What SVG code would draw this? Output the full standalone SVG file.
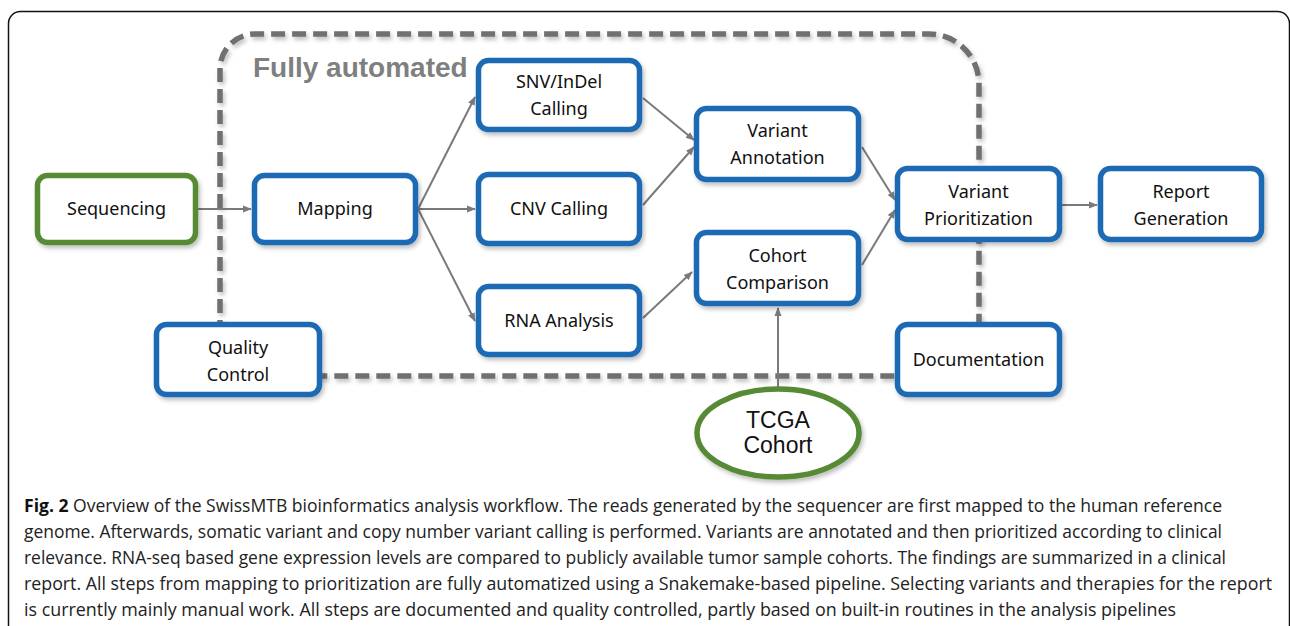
<svg xmlns="http://www.w3.org/2000/svg" width="1290" height="626" viewBox="0 0 1290 626">
<defs>
<filter id="sh" x="-10%" y="-10%" width="130%" height="140%">
<feDropShadow dx="2" dy="3" stdDeviation="2" flood-color="#000" flood-opacity="0.25"/>
</filter>
<marker id="ah" viewBox="0 0 10 10" refX="9" refY="5" markerWidth="4.5" markerHeight="4.5" orient="auto" markerUnits="strokeWidth">
<path d="M0,1 L10,5 L0,9 Z" fill="#7a7a7a"/>
</marker>
<style>
.box{fill:#fff;stroke:#1f6bb4;stroke-width:5.5;filter:url(#sh)}
.gbox{fill:#fff;stroke:#578a34;stroke-width:5.5;filter:url(#sh)}
.t{font-family:"Noto Sans","Open Sans",sans-serif;font-size:18px;fill:#111;text-anchor:middle}
.tc{font-family:"Liberation Sans",Arial,sans-serif;font-size:23px;fill:#111;text-anchor:middle}
.ar{stroke:#7a7a7a;stroke-width:2;fill:none;marker-end:url(#ah)}
.cap{font-family:"Open Sans","Noto Sans",sans-serif;font-size:18px;fill:#222}
</style>
</defs>
<rect x="8.5" y="11.5" width="1281" height="700" rx="12" fill="#fff" stroke="#111" stroke-width="1.5"/>
<path id="automated-region" d="M220,376 V69 A35,35 0 0 1 255,34 H929 A50,50 0 0 1 979,84 V376 Z" fill="none" stroke="#6f6f6f" stroke-width="5.5" stroke-dasharray="14 7" filter="url(#sh)"/>
<text x="253" y="77" font-family="Liberation Sans,Arial,sans-serif" font-weight="bold" font-size="28" fill="#7f7f7f">Fully automated</text>
<g id="connectors">
<path class="ar" d="M198,209 H251"/>
<path class="ar" d="M418,209 L475,97"/>
<path class="ar" d="M418,209 H475"/>
<path class="ar" d="M418,209 L475,321"/>
<path class="ar" d="M643,98 L694,140"/>
<path class="ar" d="M643,205 L694,147"/>
<path class="ar" d="M643,318 L692,272"/>
<path class="ar" d="M862,147 L895,200"/>
<path class="ar" d="M862,265 L895,210"/>
<path class="ar" d="M1062,205 H1097"/>
<path class="ar" d="M778,387 V308"/>
</g>
<g id="sequencing"><rect class="gbox" x="37.5" y="175.5" width="158" height="67" rx="10"/><text class="t" x="116.5" y="215">Sequencing</text></g>
<g id="mapping"><rect class="box" x="254.5" y="175.5" width="161" height="67" rx="10"/><text class="t" x="335" y="215">Mapping</text></g>
<g id="snv"><rect class="box" x="478.5" y="60.5" width="161" height="69" rx="10"/><text class="t" x="559" y="88">SNV/InDel</text><text class="t" x="559" y="115">Calling</text></g>
<g id="cnv"><rect class="box" x="478.5" y="174.5" width="161" height="69" rx="10"/><text class="t" x="559" y="215">CNV Calling</text></g>
<g id="rna"><rect class="box" x="478.5" y="286.5" width="161" height="68" rx="10"/><text class="t" x="559" y="327">RNA Analysis</text></g>
<g id="variant-annotation"><rect class="box" x="696.5" y="108.5" width="162" height="71" rx="10"/><text class="t" x="777.5" y="137">Variant</text><text class="t" x="777.5" y="164">Annotation</text></g>
<g id="cohort-comparison"><rect class="box" x="696.5" y="232.5" width="162" height="71" rx="10"/><text class="t" x="777.5" y="262">Cohort</text><text class="t" x="777.5" y="289">Comparison</text></g>
<g id="variant-prioritization"><rect class="box" x="897.5" y="168.5" width="162" height="71" rx="10"/><text class="t" x="978.5" y="198">Variant</text><text class="t" x="978.5" y="225">Prioritization</text></g>
<g id="report-generation"><rect class="box" x="1100.5" y="168.5" width="161" height="71" rx="10"/><text class="t" x="1181" y="198">Report</text><text class="t" x="1181" y="225">Generation</text></g>
<g id="quality-control"><rect class="box" x="156.5" y="324.5" width="163" height="70" rx="10"/><text class="t" x="238" y="354">Quality</text><text class="t" x="238" y="381">Control</text></g>
<g id="documentation"><rect class="box" x="897.5" y="324.5" width="162" height="70" rx="10"/><text class="t" x="978.5" y="366">Documentation</text></g>
<g id="tcga"><ellipse class="gbox" cx="778" cy="433" rx="81" ry="44"/><text class="tc" x="778" y="428">TCGA</text><text class="tc" x="778" y="453">Cohort</text></g>
<g id="caption">
<text class="cap" x="24" y="512" textLength="1198" lengthAdjust="spacingAndGlyphs"><tspan font-weight="bold" fill="#111">Fig. 2</tspan> Overview of the SwissMTB bioinformatics analysis workflow. The reads generated by the sequencer are first mapped to the human reference</text>
<text class="cap" x="24" y="538" textLength="1198" lengthAdjust="spacingAndGlyphs">genome. Afterwards, somatic variant and copy number variant calling is performed. Variants are annotated and then prioritized according to clinical</text>
<text class="cap" x="24" y="564" textLength="1202" lengthAdjust="spacingAndGlyphs">relevance. RNA-seq based gene expression levels are compared to publicly available tumor sample cohorts. The findings are summarized in a clinical</text>
<text class="cap" x="24" y="590" textLength="1248" lengthAdjust="spacingAndGlyphs">report. All steps from mapping to prioritization are fully automatized using a Snakemake-based pipeline. Selecting variants and therapies for the report</text>
<text class="cap" x="24" y="616" textLength="1152" lengthAdjust="spacingAndGlyphs">is currently mainly manual work. All steps are documented and quality controlled, partly based on built-in routines in the analysis pipelines</text>
</g>
</svg>
